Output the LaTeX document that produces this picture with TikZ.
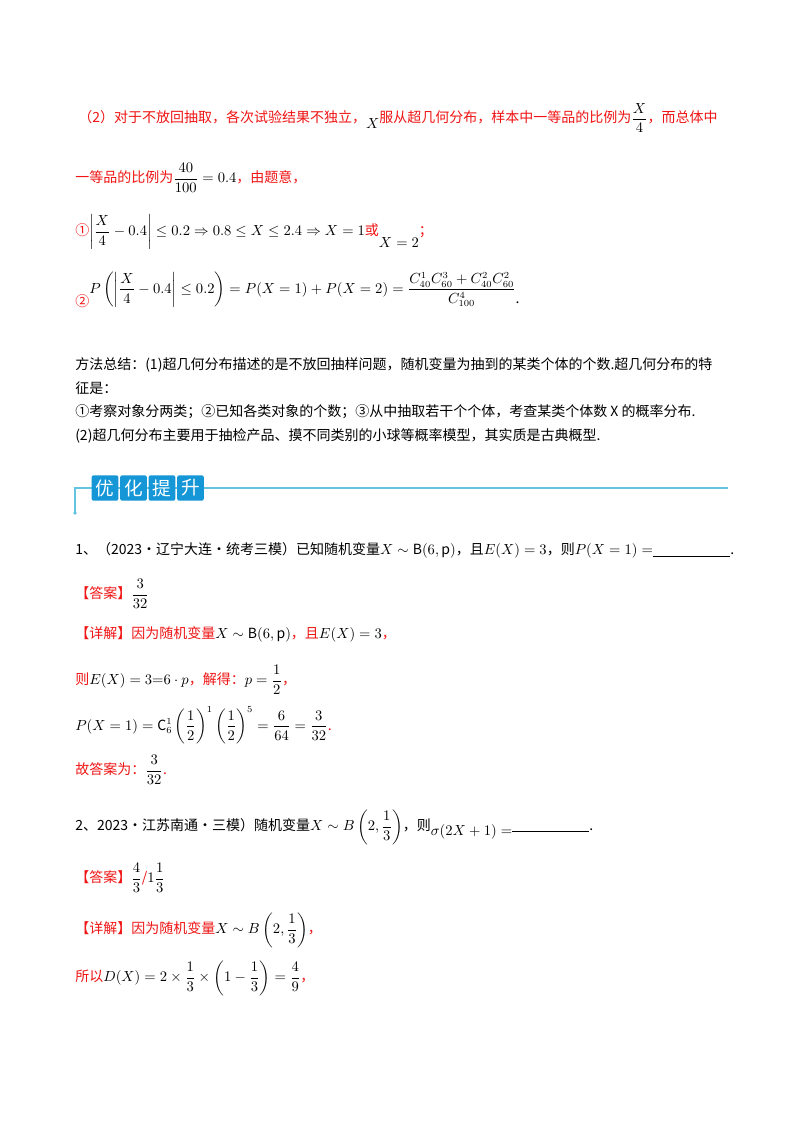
\documentclass[tikz,border=0pt]{standalone}
\usepackage{amsmath}
\usepackage{fontspec}
\setmainfont{Noto Sans CJK SC}
\definecolor{rd}{RGB}{240,20,20}
\definecolor{bannerblue}{RGB}{20,150,215}
\definecolor{linebl}{RGB}{100,195,225}
\tikzset{ln/.style={anchor=west,inner sep=0pt,font=\fontsize{10.5}{12}\selectfont},
  red/.style={text=rd},
  bchar/.style={fill=bannerblue,text=white,minimum width=20pt,minimum height=19pt,inner sep=0pt,font=\fontsize{14}{14}\selectfont,rounded corners=1.5pt}}
\begin{document}
\begin{tikzpicture}[x=0.75pt,y=-0.75pt]
\useasboundingbox[fill=white] (0,0) rectangle (800,1132);
\node[ln,red] (l1) at (78,118) {（2）对于不放回抽取，各次试验结果不独立，\raisebox{-4pt}{\textcolor{black}{$X$}}服从超几何分布，样本中一等品的比例为\textcolor{black}{$\dfrac{X}{4}$}，而总体中};
\node[ln,red] (l2) at (75,178) {一等品的比例为\textcolor{black}{$\dfrac{40}{100}=0.4$}，由题意，};
\node[ln,red] (l3) at (75,232) {①\textcolor{black}{$\left|\dfrac{X}{4}-0.4\right|\le 0.2\Rightarrow 0.8\le X\le 2.4\Rightarrow X=1$}或\raisebox{-9pt}{\textcolor{black}{$X=2$}}；};
\node[ln,red] (l4) at (75,290) {\raisebox{-10pt}{②}\textcolor{black}{$P\left(\left|\dfrac{X}{4}-0.4\right|\le 0.2\right)=P(X=1)+P(X=2)=\dfrac{C_{40}^{1}C_{60}^{3}+C_{40}^{2}C_{60}^{2}}{C_{100}^{4}}$}\raisebox{-8pt}{\textcolor{black}{.}}};
\node[ln] (m1) at (75,365) {方法总结：(1)超几何分布描述的是不放回抽样问题，随机变量为抽到的某类个体的个数.超几何分布的特};
\node[ln] (m2) at (75,388) {征是：};
\node[ln] (m3) at (75,412) {①考察对象分两类；②已知各类对象的个数；③从中抽取若干个个体，考查某类个体数 X 的概率分布.};
\node[ln] (m4) at (75,436) {(2)超几何分布主要用于抽检产品、摸不同类别的小球等概率模型，其实质是古典概型.};
% banner
\draw[linebl,line width=0.8pt] (75,513) -- (75,488) -- (728,488);
\fill[linebl] (75,513) circle (1.8);
\foreach \c/\i in {优/0,化/1,提/2,升/3}{
  \node[bchar] (b\i) at (105+\i*28.5,488) {\c};
}
\node[ln] (q1) at (75,550) {1、（2023·辽宁大连·统考三模）已知随机变量$X\sim \mathrm{B}(6,\mathrm{p})$，且$E(X)=3$，则$P(X=1)=$\underline{\hspace{58pt}}.};
\node[ln,red] (a1) at (75,594) {【答案】\textcolor{black}{$\dfrac{3}{32}$}};
\node[ln,red] (d1) at (75,634) {【详解】因为随机变量\textcolor{black}{$X\sim \mathrm{B}(6,\mathrm{p})$}，且\textcolor{black}{$E(X)=3$}，};
\node[ln,red] (d2) at (75,680) {则\textcolor{black}{$E(X)=3{=}6\cdot p$}，解得：\textcolor{black}{$p=\dfrac{1}{2}$}，};
\node[ln,red] (d3) at (75,725) {\textcolor{black}{$P(X=1)=\mathrm{C}_6^1\left(\dfrac{1}{2}\right)^{1}\left(\dfrac{1}{2}\right)^{5}=\dfrac{6}{64}=\dfrac{3}{32}$}.};
\node[ln,red] (d4) at (75,770) {故答案为：\textcolor{black}{$\dfrac{3}{32}$}.};
\node[ln] (q2) at (75,827) {2、2023·江苏南通·三模）随机变量$X\sim B\left(2,\dfrac{1}{3}\right)$，则\raisebox{-4pt}{$\sigma(2X+1)=$\rule[3pt]{58pt}{0.6pt}}.};
\node[ln,red] (a2) at (75,878) {【答案】\textcolor{black}{$\dfrac{4}{3}$}/\textcolor{black}{$1\dfrac{1}{3}$}};
\node[ln,red] (e1) at (75,930) {【详解】因为随机变量\textcolor{black}{$X\sim B\left(2,\dfrac{1}{3}\right)$}，};
\node[ln,red] (e2) at (75,978) {所以\textcolor{black}{$D(X)=2\times\dfrac{1}{3}\times\left(1-\dfrac{1}{3}\right)=\dfrac{4}{9}$}，};
\end{tikzpicture}
\end{document}
